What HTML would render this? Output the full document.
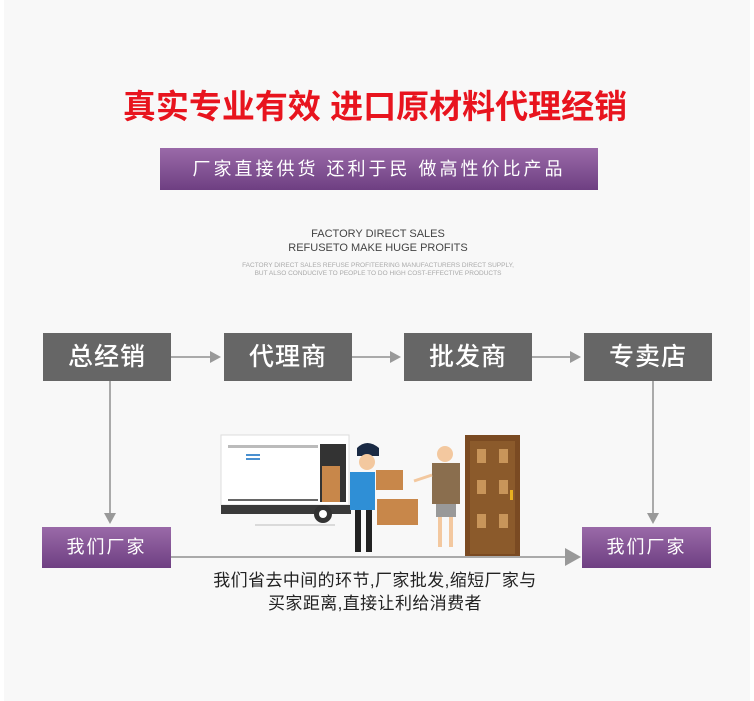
<!DOCTYPE html>
<html><head><meta charset="utf-8"><style>
body{margin:0;width:754px;height:701px;background:#fff;position:relative;overflow:hidden;font-family:"Liberation Sans","Noto Sans CJK SC",sans-serif}
.bg{position:absolute;left:4px;top:0;width:746px;height:701px;background:#f8f8f8}
.a{position:absolute}
.gb{position:absolute;background:#666;color:#fff;font-size:25px;font-weight:500;text-align:center;line-height:48px;width:128px;height:48px;top:333px;letter-spacing:1px}
.pb{position:absolute;background:linear-gradient(#9a6aa8,#6e3f82);color:#fff;font-size:18px;text-align:center;line-height:41px;width:129px;height:41px;top:527px;letter-spacing:2px}
</style></head><body>
<div class="bg"></div>
<div class="a" style="left:100px;top:80px;width:550px;text-align:center;color:#e8141e;font-size:33px;font-weight:bold;white-space:nowrap">真实专业有效 进口原材料代理经销</div>
<div class="a" style="left:160px;top:148px;width:438px;height:42px;background:linear-gradient(#9a6aa8,#6e3f82);color:#fff;font-size:18px;line-height:42px;text-align:center;letter-spacing:3px;white-space:nowrap">厂家直接供货 还利于民 做高性价比产品</div>
<div class="a" style="left:180px;top:227px;width:396px;text-align:center;color:#444;font-size:11px;line-height:14px">FACTORY DIRECT SALES<br>REFUSETO MAKE HUGE PROFITS</div>
<div class="a" style="left:180px;top:262px;width:396px;text-align:center;color:#aaa;font-size:6.5px;line-height:8px">FACTORY DIRECT SALES REFUSE PROFITEERING MANUFACTURERS DIRECT SUPPLY,<br>BUT ALSO CONDUCIVE TO PEOPLE TO DO HIGH COST-EFFECTIVE PRODUCTS</div>
<div class="gb" style="left:43px">总经销</div>
<div class="gb" style="left:224px">代理商</div>
<div class="gb" style="left:404px">批发商</div>
<div class="gb" style="left:584px">专卖店</div>
<div class="pb" style="left:42px">我们厂家</div>
<div class="pb" style="left:582px">我们厂家</div>
<svg class="a" style="left:0;top:0" width="754" height="701">
<g stroke="#aaa" stroke-width="2" fill="#999">
<line x1="171" y1="357" x2="212" y2="357"/><polygon points="210,351 221,357 210,363" stroke="none"/>
<line x1="352" y1="357" x2="392" y2="357"/><polygon points="390,351 401,357 390,363" stroke="none"/>
<line x1="532" y1="357" x2="572" y2="357"/><polygon points="570,351 581,357 570,363" stroke="none"/>
<line x1="110" y1="381" x2="110" y2="515"/><polygon points="104,513 116,513 110,524" stroke="none"/>
<line x1="653" y1="381" x2="653" y2="515"/><polygon points="647,513 659,513 653,524" stroke="none"/>
<line x1="171" y1="557" x2="566" y2="557"/><polygon points="565,548 581,557 565,566" stroke="none"/>
</g>
<rect x="221" y="435" width="128" height="70" fill="#fff" stroke="#ddd"/>
<rect x="228" y="445" width="90" height="3" fill="#bbb"/>
<rect x="246" y="454" width="14" height="2" fill="#4a90d0"/><rect x="246" y="458" width="14" height="2" fill="#4a90d0"/>
<rect x="228" y="499" width="90" height="2" fill="#666"/>
<rect x="320" y="444" width="26" height="58" fill="#333"/>
<rect x="322" y="466" width="18" height="36" fill="#c8874a"/>
<rect x="221" y="505" width="130" height="9" fill="#3a3a3a"/>
<circle cx="323" cy="514" r="9" fill="#333"/><circle cx="323" cy="514" r="4" fill="#fff"/>
<line x1="255" y1="525" x2="335" y2="525" stroke="#bbb"/>
<path d="M357 448 q10-10 22 0 v8 h-22z" fill="#1a2a44"/>
<circle cx="367" cy="462" r="8" fill="#f3c89f"/>
<rect x="350" y="472" width="25" height="38" fill="#2f8fd6"/>
<rect x="355" y="510" width="6" height="42" fill="#222"/><rect x="366" y="510" width="6" height="42" fill="#222"/>
<rect x="376" y="470" width="27" height="20" fill="#c8874a"/>
<rect x="377" y="499" width="41" height="26" fill="#c8874a"/>
<circle cx="445" cy="454" r="8" fill="#f3c89f"/>
<rect x="432" y="463" width="28" height="41" fill="#8a6e4e"/>
<rect x="436" y="504" width="20" height="13" fill="#999"/>
<rect x="438" y="517" width="4" height="30" fill="#f3c89f"/><rect x="449" y="517" width="4" height="30" fill="#f3c89f"/>
<line x1="432" y1="475" x2="414" y2="481" stroke="#f3c89f" stroke-width="3"/>
<rect x="465" y="435" width="55" height="121" fill="#7a4a22"/>
<rect x="470" y="441" width="45" height="113" fill="#8b5a2b"/>
<g fill="#c8955a"><rect x="477" y="449" width="9" height="14"/><rect x="499" y="449" width="9" height="14"/><rect x="477" y="480" width="9" height="14"/><rect x="499" y="480" width="9" height="14"/><rect x="477" y="514" width="9" height="14"/><rect x="499" y="514" width="9" height="14"/></g>
<rect x="510" y="490" width="3" height="10" fill="#e8b020"/>
</svg>
<div class="a" style="left:170px;top:569px;width:410px;text-align:center;color:#222;font-size:17px;letter-spacing:0.4px;line-height:23px">我们省去中间的环节,厂家批发,缩短厂家与<br>买家距离,直接让利给消费者</div>
</body></html>
